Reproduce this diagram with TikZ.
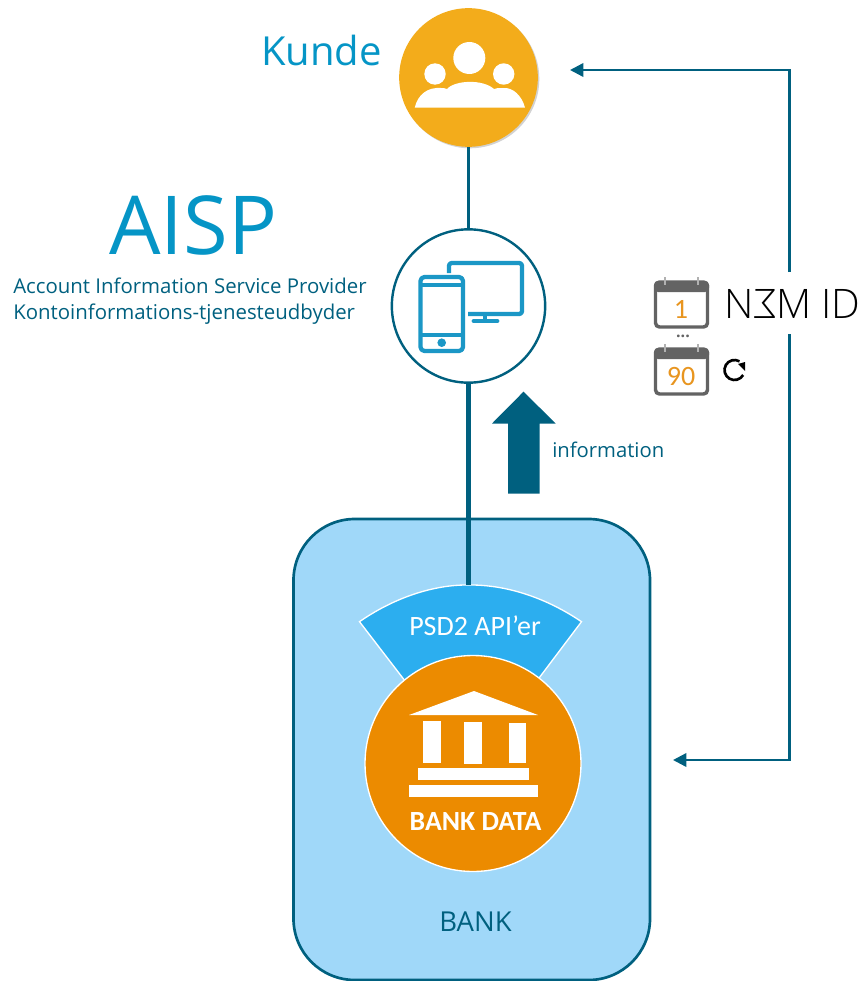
\documentclass[tikz,border=0pt]{standalone}
\usepackage{fontspec}
\setmainfont{Open Sans}
\newfontfamily\carl{Carlito}
\newfontfamily\nemf{Open Sans Light}
\usetikzlibrary{arrows.meta,calc}
\definecolor{teal}{HTML}{00607F}
\definecolor{kunde}{HTML}{0595C6}
\definecolor{gold}{HTML}{F3AC1B}
\definecolor{bankfill}{HTML}{A0D8F9}
\definecolor{apiblue}{HTML}{2CAEEF}
\definecolor{bankor}{HTML}{EC8B00}
\definecolor{calg}{HTML}{636363}
\definecolor{calo}{HTML}{E8951F}
\definecolor{dev}{HTML}{1B97C6}
\tikzset{
 px/.style={x=0.75pt,y=-0.75pt},
 lab/.style={inner sep=0pt,anchor=base west},
 conn/.style={draw=teal,line width=1.8pt},
 thick conn/.style={draw=teal,line width=3.7pt},
 headend/.style={-{Triangle[length=10pt,width=10pt]}},
 icon/.style={draw=dev,line width=3.2pt,line join=round,fill=none},
 cal frame/.style={draw=calg,line width=2.6pt,fill=white,rounded corners=3pt},
}
\begin{document}
\begin{tikzpicture}[px]
\useasboundingbox (0,0) rectangle (866,981);
% bank
\draw[fill=bankfill,draw=teal,line width=2pt,rounded corners=46pt] (293.5,519) rectangle (650,980);
\coordinate (bankT) at (468.5,585);
\coordinate (kundeC) at (468.5,77.5);
\coordinate (aispC) at (468.5,306);
% kunde circle
\fill[gray!35] (470,79) circle (69.3);
\node[circle,fill=gold,minimum size=104pt,inner sep=0pt] (kunde) at (kundeC) {};
\fill[white] (469.3,58) circle (16);
\fill[white] (435,74) circle (10.7);
\fill[white] (503.7,74) circle (10.7);
\fill[white] (414.7,107.7) .. controls (418,94) and (428,87) .. (441,88) .. controls (447,88) and (444,89) .. (447,89)
  .. controls (455,80) and (483,79) .. (494,89) .. controls (497,88) and (498,88) .. (503,88) .. controls (513,87) and (522,96) .. (525,107.7) -- cycle;
% aisp circle
\node[circle,draw=teal,fill=white,line width=1.8pt,minimum size=115pt,inner sep=0pt] (aisp) at (aispC) {};
\draw[conn] (kunde.south) -- (aisp.north);
% device icon
\draw[icon,rounded corners=2pt] (449,273) -- (449,263) -- (522,263) -- (522,314) -- (468,314);
\draw[dev,line width=3pt] (485,314) -- (485,321);
\draw[dev,line width=3.6pt,line cap=round] (474,321) -- (497,321);
\draw[icon,rounded corners=3pt] (420.5,277) rectangle (463,351);
\draw[icon] (420.5,285) -- (463,285);
\draw[icon] (420.5,335) -- (463,335);
\fill[dev] (441.7,342.7) circle (4.3);
% api wedge
\coordinate (wl) at (359.5,621.7);
\coordinate (wr) at (581.5,621.7);
\coordinate (wbl) at (412,690);
\coordinate (wbr) at (530,690);
\draw[fill=apiblue,draw=white,line width=1pt] (wl) .. controls (395,597) and (435,584.5) .. (bankT) .. controls (505,584.5) and (545,597) .. (wr) -- (wbr) -- (wbl) -- cycle;
\node[white,inner sep=0pt,font=\fontsize{21}{21}\carl] (api) at (475,626) {PSD2 API’er};
\draw[thick conn] (aisp.south) -- (bankT);
% bank data
\node[circle,fill=bankor,draw=white,line width=1pt,minimum size=162pt,inner sep=0pt] (data) at (473,763.5) {};
\fill[white] (409,715) -- (474,691) -- (538,715) -- cycle;
\fill[white] (423.3,721) rectangle (441,762.7);
\fill[white] (464.3,722) rectangle (482,764);
\fill[white] (508.7,723) rectangle (526.3,762.7);
\fill[white] (418,768) rectangle (529,779.7);
\fill[white] (409,784.5) rectangle (538.3,796.7);
\node[white,inner sep=0pt,font=\fontsize{20.8}{21}\carl\bfseries] (bd) at (475.5,821) {BANK DATA};
\node[teal,inner sep=0pt,font=\fontsize{20.6}{21}\selectfont] (bank) at (475.5,922) {BANK};
% info arrow
\fill[teal] (508,493.5) -- (539.7,493.5) -- (539.7,423.5) -- (555.7,423.5) -- (523.5,391.7) -- (492,423.5) -- (508,423.5) -- cycle;
\node[teal,lab,font=\fontsize{15.2}{16}\selectfont] (info) at (552,457) {information};
% titles
\node[kunde,lab,font=\fontsize{30}{30}\selectfont] (kt) at (261,65) {Kunde};
\node[kunde,lab,font=\fontsize{61}{61}\selectfont] (at) at (109,254) {AISP};
\node[teal,lab,font=\fontsize{15.3}{16}\selectfont] (a1) at (13,293) {Account Information Service Provider};
\node[teal,lab,font=\fontsize{15.3}{16}\selectfont] (a2) at (13,319) {Kontoinformations-tjenesteudbyder};
% right connector
\coordinate (c1) at (789.5,70);
\coordinate (c2) at (789.5,760);
\coordinate (k1) at (570,70);
\coordinate (b1) at (673,760);
\coordinate (g1) at (789.5,272);
\coordinate (g2) at (789.5,334);
\draw[conn,headend] (g1) -- (c1) -- (k1);
\draw[conn,headend] (g2) -- (c2) -- (b1);
% calendars
\foreach \y/\t/\n in {282/1/ca,349/90/cb}{
  \draw[cal frame] (655.5,\y) rectangle (707.5,\y+45);
  \fill[calg,rounded corners=3pt] (654,\y-1) rectangle (709,\y+10);
  \fill[calg!50] (664,\y-5) rectangle (666,\y+3);
  \fill[calg!50] (697,\y-5) rectangle (699,\y+3);
  \node[calo,inner sep=0pt,font=\fontsize{21}{21}\carl] (\n) at (681,\y+27.5) {\t};
}
\node[calg,inner sep=0pt,font=\fontsize{12}{12}\bfseries] (dots) at (683,336) {...};
\node[black,lab,font=\fontsize{30.5}{31}\nemf] (nem) at (724,318) {N\reflectbox{Σ}M ID};
% reload mark
\draw[black,line width=2pt] (734.5,370) ++(30:10) arc[start angle=30,end angle=300,radius=10];
\fill[black] (745,362) -- (745,371) -- (738,364) -- cycle;
\end{tikzpicture}
\end{document}
